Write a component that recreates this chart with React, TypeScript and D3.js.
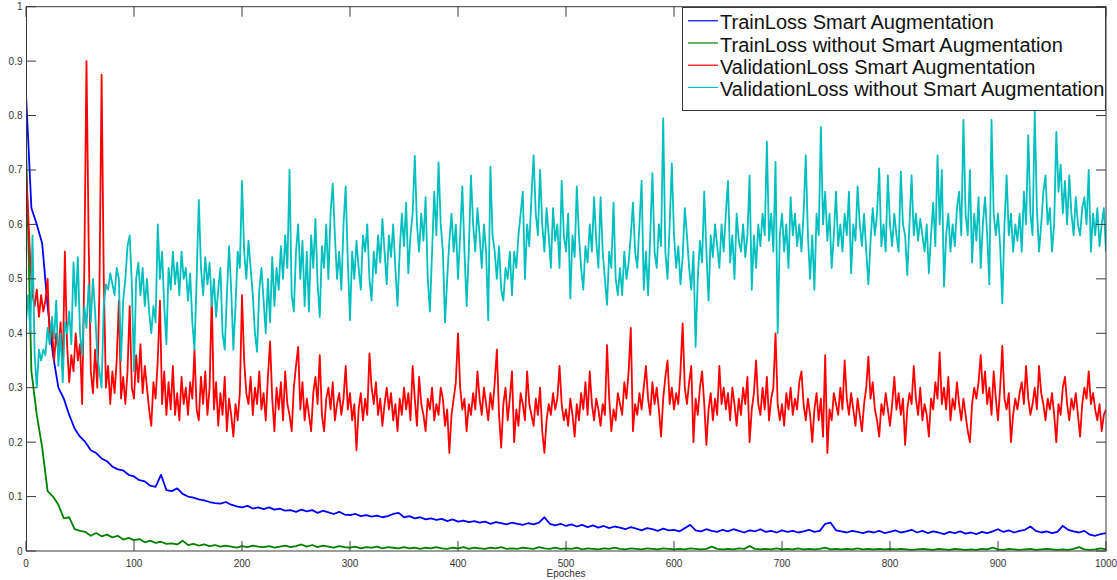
import React from 'react';
import * as d3 from 'd3';

// Epoch grids: train curves read every 5 epochs, validation curves every 2 epochs
const trainEpochs: number[] = d3.range(0, 1001, 5);
const valEpochs: number[] = d3.range(0, 1001, 2);

const trainSmart = [
  0.84, 0.63, 0.60, 0.565, 0.45, 0.36, 0.30, 0.28, 0.25, 0.225,
  0.21, 0.20, 0.185, 0.18, 0.17, 0.165, 0.155, 0.15, 0.148, 0.14,
  0.137, 0.13, 0.128, 0.12, 0.118, 0.14, 0.112, 0.11, 0.115, 0.105,
  0.10, 0.098, 0.095, 0.093, 0.09, 0.088, 0.087, 0.09, 0.085, 0.082,
  0.08, 0.083, 0.078, 0.08, 0.077, 0.08, 0.076, 0.078, 0.074, 0.075,
  0.072, 0.076, 0.073, 0.075, 0.07, 0.074, 0.071, 0.068, 0.072, 0.067,
  0.066, 0.068, 0.064, 0.066, 0.063, 0.065, 0.062, 0.064, 0.068, 0.07,
  0.062, 0.064, 0.06, 0.062, 0.058, 0.06, 0.057, 0.059, 0.055, 0.058,
  0.054, 0.056, 0.053, 0.055, 0.052, 0.054, 0.05, 0.053, 0.051, 0.049,
  0.052, 0.05, 0.048, 0.051, 0.049, 0.052, 0.062, 0.05, 0.047, 0.05,
  0.046, 0.049, 0.045, 0.048, 0.044, 0.047, 0.043, 0.046, 0.042, 0.045,
  0.043, 0.04, 0.044, 0.041, 0.038, 0.042, 0.04, 0.037, 0.041, 0.038,
  0.039, 0.036, 0.042, 0.048, 0.038, 0.036, 0.04, 0.037, 0.035, 0.039,
  0.036, 0.04, 0.037, 0.034, 0.038, 0.036, 0.04, 0.035, 0.037, 0.034,
  0.038, 0.035, 0.037, 0.034, 0.036, 0.039, 0.035, 0.037, 0.05, 0.052,
  0.038, 0.036, 0.034, 0.037, 0.035, 0.033, 0.036, 0.034, 0.037, 0.033,
  0.035, 0.038, 0.034, 0.036, 0.039, 0.034, 0.037, 0.033, 0.036, 0.034,
  0.031, 0.035, 0.033, 0.036, 0.032, 0.034, 0.031, 0.035, 0.033, 0.036,
  0.04, 0.035, 0.038, 0.034, 0.037, 0.039, 0.045, 0.037, 0.034, 0.036,
  0.033, 0.035, 0.046, 0.039, 0.036, 0.034, 0.037, 0.03, 0.028, 0.031,
  0.033,
];

const trainNoSmart = [
  0.75, 0.33, 0.25, 0.19, 0.11, 0.10, 0.085, 0.06, 0.062, 0.04,
  0.037, 0.035, 0.028, 0.033, 0.027, 0.03, 0.025, 0.028, 0.021, 0.024,
  0.02, 0.022, 0.016, 0.019, 0.015, 0.017, 0.013, 0.014, 0.012, 0.019,
  0.011, 0.013, 0.01, 0.012, 0.009, 0.011, 0.008, 0.01, 0.008, 0.006,
  0.009, 0.007, 0.01, 0.008, 0.007, 0.009, 0.006, 0.008, 0.01, 0.007,
  0.009, 0.012, 0.008, 0.011, 0.007, 0.01, 0.008, 0.006, 0.009, 0.007,
  0.006, 0.008, 0.005, 0.007, 0.006, 0.008, 0.005, 0.007, 0.006, 0.005,
  0.007, 0.005, 0.006, 0.004, 0.006, 0.005, 0.007, 0.005, 0.004, 0.006,
  0.005, 0.007, 0.004, 0.006, 0.005, 0.004, 0.006, 0.005, 0.007, 0.004,
  0.005, 0.004, 0.006, 0.005, 0.004, 0.007, 0.005, 0.004, 0.006, 0.004,
  0.005, 0.004, 0.006, 0.003, 0.005, 0.004, 0.003, 0.005, 0.004, 0.006,
  0.004, 0.003, 0.005, 0.004, 0.003, 0.005, 0.004, 0.003, 0.005, 0.004,
  0.003, 0.004, 0.003, 0.005, 0.004, 0.003, 0.004, 0.008, 0.004, 0.003,
  0.004, 0.003, 0.005, 0.004, 0.009, 0.004, 0.003, 0.004, 0.003, 0.005,
  0.003, 0.004, 0.003, 0.005, 0.003, 0.004, 0.003, 0.004, 0.006, 0.003,
  0.004, 0.003, 0.004, 0.003, 0.005, 0.003, 0.004, 0.003, 0.004, 0.003,
  0.004, 0.003, 0.004, 0.003, 0.002, 0.003, 0.004, 0.003, 0.002, 0.004,
  0.003, 0.002, 0.004, 0.003, 0.002, 0.003, 0.002, 0.004, 0.003, 0.006,
  0.003, 0.002, 0.004, 0.003, 0.002, 0.003, 0.004, 0.002, 0.003, 0.004,
  0.003, 0.002, 0.003, 0.002, 0.004, 0.007, 0.003, 0.002, 0.003, 0.005,
  0.003,
];

const valSmart = [
  0.70, 0.62, 0.53, 0.47, 0.45, 0.48, 0.43, 0.47, 0.44, 0.46, 0.50, 0.38, 0.41, 0.35, 0.40, 0.36, 0.42, 0.33, 0.55, 0.38, 0.31, 0.36, 0.33, 0.40, 0.35,
  0.38, 0.27, 0.52, 0.90, 0.57, 0.33, 0.29, 0.37, 0.30, 0.48, 0.875, 0.50, 0.30, 0.34, 0.27, 0.33, 0.29, 0.35, 0.46, 0.28, 0.32, 0.27, 0.33, 0.45, 0.30,
  0.28, 0.36, 0.31, 0.38, 0.29, 0.34, 0.30, 0.26, 0.23, 0.31, 0.28, 0.35, 0.46, 0.27, 0.33, 0.25, 0.31, 0.26, 0.34, 0.25, 0.29, 0.24, 0.32, 0.27, 0.30,
  0.25, 0.31, 0.28, 0.37, 0.26, 0.24, 0.32, 0.27, 0.33, 0.25, 0.30, 0.47, 0.26, 0.31, 0.23, 0.29, 0.25, 0.32, 0.22, 0.28, 0.25, 0.21, 0.27, 0.24, 0.29,
  0.47, 0.35, 0.29, 0.27, 0.32, 0.25, 0.30, 0.27, 0.33, 0.26, 0.29, 0.24, 0.32, 0.385, 0.28, 0.22, 0.30, 0.26, 0.31, 0.24, 0.33, 0.27, 0.25, 0.22, 0.30,
  0.34, 0.375, 0.26, 0.31, 0.24, 0.28, 0.25, 0.22, 0.29, 0.32, 0.27, 0.36, 0.25, 0.22, 0.28, 0.30, 0.26, 0.31, 0.24, 0.27, 0.29, 0.25, 0.28, 0.34, 0.26,
  0.29, 0.24, 0.27, 0.185, 0.26, 0.29, 0.24, 0.28, 0.25, 0.363, 0.30, 0.27, 0.31, 0.25, 0.28, 0.23, 0.27, 0.30, 0.26, 0.29, 0.24, 0.27, 0.22, 0.28, 0.25,
  0.30, 0.26, 0.29, 0.24, 0.34, 0.28, 0.23, 0.32, 0.27, 0.25, 0.22, 0.28, 0.26, 0.30, 0.24, 0.27, 0.25, 0.30, 0.28, 0.23, 0.26, 0.18, 0.25, 0.28, 0.31,
  0.40, 0.30, 0.26, 0.28, 0.22, 0.27, 0.25, 0.29, 0.26, 0.33, 0.28, 0.25, 0.30, 0.27, 0.24, 0.29, 0.26, 0.31, 0.37, 0.25, 0.19, 0.27, 0.30, 0.24, 0.28,
  0.33, 0.20, 0.26, 0.23, 0.29, 0.27, 0.24, 0.33, 0.27, 0.25, 0.23, 0.28, 0.25, 0.30, 0.22, 0.18, 0.24, 0.27, 0.25, 0.29, 0.26, 0.28, 0.34, 0.27, 0.24,
  0.26, 0.23, 0.28, 0.25, 0.21, 0.27, 0.24, 0.29, 0.26, 0.31, 0.25, 0.33, 0.27, 0.24, 0.28, 0.26, 0.23, 0.27, 0.25, 0.378, 0.28, 0.22, 0.26, 0.24, 0.29,
  0.27, 0.25, 0.31, 0.28, 0.33, 0.41, 0.22, 0.27, 0.25, 0.29, 0.26, 0.30, 0.34, 0.28, 0.25, 0.31, 0.27, 0.30, 0.26, 0.21, 0.28, 0.32, 0.35, 0.27, 0.30,
  0.26, 0.29, 0.27, 0.33, 0.418, 0.30, 0.27, 0.31, 0.34, 0.20, 0.28, 0.25, 0.30, 0.33, 0.27, 0.195, 0.26, 0.29, 0.24, 0.28, 0.25, 0.34, 0.27, 0.30, 0.26,
  0.29, 0.24, 0.30, 0.27, 0.23, 0.28, 0.25, 0.30, 0.27, 0.32, 0.20, 0.26, 0.29, 0.35, 0.27, 0.25, 0.30, 0.26, 0.32, 0.24, 0.28, 0.30, 0.40, 0.27, 0.24,
  0.27, 0.23, 0.29, 0.26, 0.30, 0.25, 0.28, 0.26, 0.31, 0.33, 0.27, 0.24, 0.28, 0.25, 0.20, 0.26, 0.29, 0.24, 0.28, 0.21, 0.36, 0.18, 0.26, 0.24, 0.29,
  0.27, 0.25, 0.30, 0.26, 0.35, 0.28, 0.25, 0.29, 0.26, 0.23, 0.28, 0.25, 0.22, 0.27, 0.30, 0.357, 0.28, 0.31, 0.26, 0.24, 0.21, 0.27, 0.25, 0.29, 0.26,
  0.23, 0.27, 0.32, 0.26, 0.29, 0.25, 0.28, 0.195, 0.26, 0.29, 0.27, 0.34, 0.28, 0.25, 0.30, 0.24, 0.27, 0.25, 0.21, 0.28, 0.26, 0.31, 0.28, 0.365, 0.27,
  0.30, 0.26, 0.32, 0.24, 0.28, 0.26, 0.31, 0.27, 0.24, 0.28, 0.25, 0.22, 0.20, 0.27, 0.30, 0.28, 0.31, 0.36, 0.29, 0.33, 0.27, 0.30, 0.25, 0.33, 0.28,
  0.24, 0.30, 0.377, 0.28, 0.26, 0.29, 0.20, 0.25, 0.28, 0.26, 0.29, 0.31, 0.27, 0.34, 0.28, 0.25, 0.27, 0.30, 0.26, 0.34, 0.29, 0.27, 0.24, 0.28, 0.26,
  0.29, 0.25, 0.20, 0.27, 0.25, 0.30, 0.32, 0.27, 0.24, 0.28, 0.26, 0.29, 0.25, 0.21, 0.27, 0.30, 0.28, 0.33, 0.27, 0.29, 0.26, 0.24, 0.27, 0.22, 0.25,
  0.26,
];

const valNoSmart = [
  0.42, 0.47, 0.40, 0.58, 0.36, 0.30, 0.37, 0.35, 0.37, 0.36, 0.41, 0.38, 0.43, 0.39, 0.46, 0.34, 0.40, 0.31, 0.42, 0.40, 0.44, 0.38, 0.53, 0.45, 0.54,
  0.40, 0.36, 0.45, 0.41, 0.49, 0.42, 0.50, 0.44, 0.36, 0.33, 0.30, 0.45, 0.49, 0.48, 0.51, 0.49, 0.47, 0.52, 0.50, 0.35, 0.46, 0.50, 0.56, 0.58, 0.49,
  0.33, 0.50, 0.53, 0.47, 0.52, 0.45, 0.50, 0.44, 0.40, 0.45, 0.42, 0.60, 0.50, 0.55, 0.45, 0.38, 0.52, 0.48, 0.55, 0.49, 0.53, 0.47, 0.55, 0.50, 0.52,
  0.46, 0.51, 0.42, 0.37, 0.50, 0.645, 0.52, 0.47, 0.54, 0.49, 0.53, 0.45, 0.50, 0.43, 0.48, 0.52, 0.40, 0.37, 0.47, 0.56, 0.48, 0.37, 0.45, 0.55, 0.52,
  0.68, 0.55, 0.50, 0.57, 0.52, 0.47, 0.40, 0.366, 0.48, 0.52, 0.46, 0.40, 0.50, 0.42, 0.54, 0.45, 0.52, 0.48, 0.56, 0.50, 0.58, 0.52, 0.70, 0.47, 0.44,
  0.55, 0.60, 0.50, 0.57, 0.45, 0.55, 0.44, 0.58, 0.52, 0.61, 0.49, 0.43, 0.56, 0.52, 0.60, 0.50, 0.62, 0.675, 0.58, 0.50, 0.55, 0.48, 0.60, 0.67, 0.53,
  0.424, 0.55, 0.50, 0.57, 0.52, 0.48, 0.58, 0.55, 0.60, 0.50, 0.46, 0.55, 0.51, 0.58, 0.53, 0.61, 0.55, 0.49, 0.58, 0.54, 0.60, 0.52, 0.45, 0.55, 0.62,
  0.56, 0.64, 0.51, 0.58, 0.62, 0.726, 0.60, 0.55, 0.62, 0.57, 0.65, 0.50, 0.44, 0.55, 0.66, 0.58, 0.714, 0.60, 0.55, 0.42, 0.50, 0.57, 0.62, 0.55, 0.60,
  0.50, 0.58, 0.67, 0.55, 0.45, 0.55, 0.69, 0.60, 0.55, 0.63, 0.58, 0.52, 0.60, 0.55, 0.424, 0.706, 0.58, 0.55, 0.50, 0.56, 0.48, 0.46, 0.52, 0.50, 0.55,
  0.47, 0.55, 0.52, 0.58, 0.62, 0.66, 0.50, 0.60, 0.56, 0.65, 0.727, 0.62, 0.58, 0.70, 0.60, 0.55, 0.63, 0.58, 0.52, 0.63, 0.57, 0.60, 0.52, 0.68, 0.58,
  0.55, 0.62, 0.464, 0.58, 0.54, 0.67, 0.58, 0.52, 0.48, 0.56, 0.53, 0.60, 0.55, 0.65, 0.57, 0.52, 0.65, 0.55, 0.50, 0.452, 0.55, 0.52, 0.64, 0.50, 0.47,
  0.52, 0.47, 0.55, 0.50, 0.53, 0.58, 0.64, 0.55, 0.52, 0.60, 0.68, 0.48, 0.55, 0.47, 0.58, 0.694, 0.55, 0.52, 0.60, 0.56, 0.795, 0.55, 0.50, 0.60, 0.712,
  0.58, 0.52, 0.56, 0.49, 0.54, 0.63, 0.58, 0.52, 0.48, 0.55, 0.375, 0.50, 0.57, 0.53, 0.66, 0.55, 0.46, 0.58, 0.54, 0.60, 0.56, 0.52, 0.60, 0.55, 0.62,
  0.68, 0.53, 0.58, 0.50, 0.62, 0.57, 0.55, 0.60, 0.54, 0.58, 0.69, 0.48, 0.58, 0.52, 0.60, 0.56, 0.62, 0.58, 0.752, 0.57, 0.62, 0.55, 0.715, 0.40, 0.58,
  0.62, 0.55, 0.60, 0.52, 0.65, 0.58, 0.62, 0.56, 0.60, 0.55, 0.62, 0.727, 0.58, 0.50, 0.58, 0.48, 0.62, 0.58, 0.779, 0.60, 0.66, 0.57, 0.62, 0.52, 0.58,
  0.66, 0.56, 0.60, 0.55, 0.62, 0.58, 0.66, 0.51, 0.60, 0.57, 0.67, 0.60, 0.56, 0.62, 0.55, 0.49, 0.57, 0.63, 0.58, 0.62, 0.703, 0.56, 0.60, 0.55, 0.69,
  0.60, 0.56, 0.62, 0.58, 0.55, 0.697, 0.60, 0.58, 0.507, 0.60, 0.69, 0.58, 0.62, 0.57, 0.61, 0.58, 0.55, 0.60, 0.51, 0.58, 0.64, 0.56, 0.727, 0.60, 0.70,
  0.486, 0.58, 0.62, 0.55, 0.60, 0.56, 0.63, 0.66, 0.58, 0.792, 0.62, 0.58, 0.70, 0.53, 0.62, 0.57, 0.65, 0.52, 0.60, 0.65, 0.58, 0.49, 0.792, 0.62, 0.58,
  0.62, 0.56, 0.455, 0.60, 0.69, 0.58, 0.62, 0.55, 0.60, 0.57, 0.62, 0.55, 0.66, 0.60, 0.764, 0.62, 0.58, 0.807, 0.63, 0.55, 0.60, 0.66, 0.69, 0.60, 0.63,
  0.55, 0.60, 0.77, 0.66, 0.71, 0.62, 0.68, 0.60, 0.69, 0.62, 0.58, 0.65, 0.60, 0.58, 0.63, 0.65, 0.60, 0.70, 0.55, 0.62, 0.58, 0.63, 0.56, 0.60, 0.63,
  0.55,
];

const seriesNames = [
  'TrainLoss Smart Augmentation',
  'TrainLoss without Smart Augmentation',
  'ValidationLoss Smart Augmentation',
  'ValidationLoss without Smart Augmentation',
];
const seriesColors = ['#0000ff', '#008000', '#ff0000', '#00bfbf'];
const seriesValues = [trainSmart, trainNoSmart, valSmart, valNoSmart];
const seriesEpochs = [trainEpochs, trainEpochs, valEpochs, valEpochs];

const xTicks = d3.range(0, 1001, 100);
const yTicks = d3.range(0, 11).map((d) => d / 10);
const xLabel = 'Epoches';

const W = 1117;
const H = 580;
const L = 26;
const R = 1106;
const T = 6.7;
const B = 551;
const FONT = "Arial, 'Liberation Sans', Helvetica, sans-serif";
const AXIS = '#3a3a3a';

export default function App() {
  const x = d3.scaleLinear().domain([0, 1000]).range([L, R]);
  const y = d3.scaleLinear().domain([0, 1]).range([B, T]);

  const tickLen = 10;
  const legX0 = 682.5;
  const legX1 = 1105.5;
  const legY0 = 7.5;
  const legY1 = 110.5;
  const rowStep = 22.2;

  return (
    <svg
      width={W}
      height={H}
      style={{ position: 'absolute', left: 0, top: 0, background: '#fff' }}
      fontFamily={FONT}
    >
      <rect x={0} y={0} width={W} height={H} fill="#fff" />
      <defs>
        <clipPath id="plotclip">
          <rect x={L} y={T} width={R - L} height={B - T} />
        </clipPath>
      </defs>
      {/* data */}
      <g clipPath="url(#plotclip)">
        {seriesValues.map((vals, i) => {
          const ep = seriesEpochs[i];
          const line = d3
            .line<number>()
            .x((_, j) => x(ep[j]))
            .y((d) => y(d));
          return (
            <path
              key={i}
              d={line(vals) || ''}
              fill="none"
              stroke={seriesColors[i]}
              strokeWidth={1.8}
              strokeLinejoin="round"
            />
          );
        })}
      </g>
      {/* axes box */}
      <rect
        x={L + 0.5}
        y={T}
        width={R - L - 0.5}
        height={B - T}
        fill="none"
        stroke={AXIS}
        strokeWidth={1}
      />
      {/* x ticks */}
      {xTicks.map((t) => (
        <g key={'x' + t}>
          <line x1={x(t)} x2={x(t)} y1={B} y2={B - tickLen} stroke={AXIS} />
          <line x1={x(t)} x2={x(t)} y1={T} y2={T + tickLen} stroke={AXIS} />
          <text
            x={x(t)}
            y={563}
            fontSize={10}
            textAnchor="middle"
            dominantBaseline="central"
            fill="#333"
          >
            {t}
          </text>
        </g>
      ))}
      {/* y ticks */}
      {yTicks.map((t) => (
        <g key={'y' + t}>
          <line x1={L} x2={L + tickLen} y1={y(t)} y2={y(t)} stroke={AXIS} />
          <line x1={R} x2={R - tickLen} y1={y(t)} y2={y(t)} stroke={AXIS} />
          <text
            x={22.5}
            y={y(t)}
            fontSize={10}
            textAnchor="end"
            dominantBaseline="central"
            fill="#333"
          >
            {String(+t.toFixed(1))}
          </text>
        </g>
      ))}
      <text
        x={(L + R) / 2}
        y={573}
        fontSize={10}
        textAnchor="middle"
        dominantBaseline="central"
        fill="#333"
      >
        {xLabel}
      </text>
      {/* legend */}
      <rect
        x={legX0}
        y={legY0}
        width={legX1 - legX0}
        height={legY1 - legY0}
        fill="#fff"
        stroke={AXIS}
        strokeWidth={1}
      />
      {seriesNames.map((name, i) => {
        const cy = 20.8 + i * rowStep;
        return (
          <g key={name}>
            <line
              x1={688}
              x2={718}
              y1={cy}
              y2={cy}
              stroke={seriesColors[i]}
              strokeWidth={1.2}
            />
            <text x={720} y={cy + 8.5} fontSize={20} fill="#111">
              {name}
            </text>
          </g>
        );
      })}
    </svg>
  );
}
